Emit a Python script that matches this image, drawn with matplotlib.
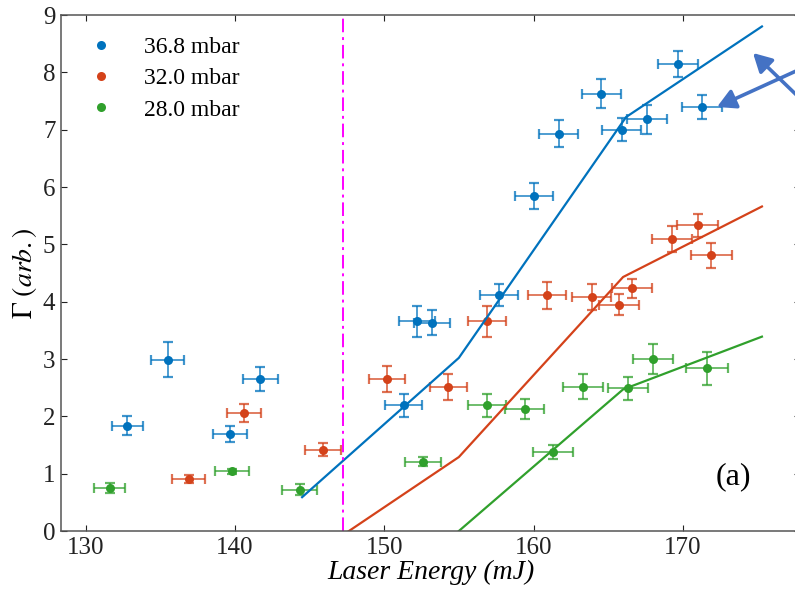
#!/usr/bin/env python

#---- import necessary packages ----#
import matplotlib
matplotlib.use('Agg')
import matplotlib.pyplot as plt
from matplotlib import rcParams
from matplotlib.lines import Line2D

#---- figure parameters ----#
params = {'font.family': 'serif',
          'font.serif': ['Liberation Serif', 'DejaVu Serif'],
          'mathtext.fontset': 'stix',
          'font.size': 17,
          'xtick.labelsize': 18,
          'ytick.labelsize': 18,
          'axes.linewidth': 1.1,
          'xtick.major.size': 4,
          'ytick.major.size': 4,
          'xtick.direction': 'in',
          'ytick.direction': 'in',
          'xtick.top': True,
          'ytick.right': True,
          }
rcParams.update(params)

#---- data ----#
blue_x = [132.8, 135.5, 139.7, 141.7, 151.3, 152.2, 153.2, 157.7, 160.05, 161.7,
          164.55, 165.9, 167.6, 169.7, 171.3]
blue_y = [1.84, 2.99, 1.70, 2.65, 2.19, 3.66, 3.63, 4.11, 5.84, 6.93,
          7.63, 7.00, 7.18, 8.14, 7.39]
blue_xerr = [1.06, 1.10, 1.14, 1.16, 1.23, 1.20, 1.20, 1.28, 1.28, 1.31,
             1.31, 1.31, 1.34, 1.34, 1.34]
blue_yerr = [0.17, 0.31, 0.14, 0.21, 0.20, 0.27, 0.22, 0.19, 0.23, 0.24,
             0.25, 0.20, 0.25, 0.23, 0.21]

red_x = [136.9, 140.6, 145.9, 150.2, 154.3, 156.9, 160.9, 163.9, 165.7, 166.6,
         169.3, 171.0, 171.9]
red_y = [0.91, 2.06, 1.42, 2.65, 2.51, 3.66, 4.11, 4.08, 3.95, 4.23,
         5.09, 5.33, 4.81]
red_xerr = [1.12, 1.15, 1.20, 1.20, 1.26, 1.27, 1.30, 1.30, 1.34, 1.34,
            1.34, 1.36, 1.37]
red_yerr = [0.07, 0.16, 0.12, 0.22, 0.22, 0.27, 0.23, 0.22, 0.19, 0.17,
            0.23, 0.20, 0.22]

green_x = [131.6, 139.8, 144.35, 152.6, 156.9, 159.4, 161.3, 163.3, 166.3, 168.0, 171.6]
green_y = [0.75, 1.04, 0.72, 1.21, 2.19, 2.13, 1.38, 2.52, 2.49, 3.00, 2.84]
green_xerr = [1.06, 1.13, 1.17, 1.23, 1.27, 1.30, 1.32, 1.34, 1.34, 1.36, 1.40]
green_yerr = [0.09, 0.05, 0.10, 0.08, 0.20, 0.18, 0.12, 0.22, 0.20, 0.26, 0.29]

# piecewise fits
blue_fit_x = [144.5, 155.0, 166.2, 175.3]
blue_fit_y = [0.59, 3.02, 7.22, 8.80]
red_fit_x = [144.5, 155.0, 166.0, 175.3]
red_fit_y = [-0.55, 1.29, 4.43, 5.66]
green_fit_x = [155.0, 166.0, 175.3]
green_fit_y = [0.0, 2.47, 3.39]

threshold = 147.25
labels = ['36.8 mbar', '32.0 mbar', '28.0 mbar']

#---- colours ----#
c_blue = '#0072BD'
c_red = '#D4421A'
c_green = '#30A02C'
c_arrow = '#4472C4'

#---- figure ----#
fig = plt.figure(figsize=(7.95, 5.91), dpi=100)
ax1 = fig.add_axes([61/795, 60/591, 739/795, 516/591])

series = [(blue_x, blue_y, blue_xerr, blue_yerr, c_blue),
          (red_x, red_y, red_xerr, red_yerr, c_red),
          (green_x, green_y, green_xerr, green_yerr, c_green)]

for xs, ys, xe, ye, c in series:
    ax1.errorbar(xs, ys, xerr=xe, yerr=ye, fmt='none', ecolor=c, elinewidth=1.3,
                 capsize=3.4, capthick=1.6, alpha=0.75)
    ax1.plot(xs, ys, 'o', color=c, ms=6.5, mec='none')

ax1.plot(blue_fit_x, blue_fit_y, color=c_blue, lw=1.6)
ax1.plot(red_fit_x, red_fit_y, color=c_red, lw=1.6)
ax1.plot(green_fit_x, green_fit_y, color=c_green, lw=1.6)

ax1.axvline(threshold, color='#FF00FF', lw=1.4, linestyle=(0, (7, 2.5, 1.5, 2.5)))

ax1.text(173.4, 0.95, '(a)', fontsize=23, ha='center', va='center')

#---- axis properties ----#
ax1.set_xlim(128.35, 177.85)
ax1.set_ylim(0, 9)
ax1.set_xticks([130, 140, 150, 160, 170])
ax1.set_yticks(range(0, 10))
ax1.tick_params(axis='both', which='both', pad=4, colors='#222222')
for s in ax1.spines.values():
    s.set_color('#555555')

ax1.set_xlabel('Laser Energy (mJ)', fontstyle='italic', fontsize=20, labelpad=1)
ax1.set_ylabel(r'$\Gamma\ \mathit{(arb.)}$', fontsize=20, labelpad=3)

#---- legend ----#
handles = [Line2D([], [], ls='none', marker='o', ms=6.5, mec='none', color=c)
           for c in (c_blue, c_red, c_green)]
leg = ax1.legend(handles, labels, loc='upper left', frameon=False, fontsize=17,
                 handlelength=1.0, handletextpad=1.3, labelspacing=0.42,
                 borderaxespad=0.5, bbox_to_anchor=(0.01, 1.0))

#---- arrows coming from off the right edge ----#
H = 591
ax1.annotate('', xy=(717, H - 107), xytext=(840, H - 51), xycoords='figure pixels',
             textcoords='figure pixels', annotation_clip=False,
             arrowprops=dict(arrowstyle='-|>,head_length=0.55,head_width=0.3',
                             mutation_scale=20, lw=2.6, color=c_arrow, shrinkA=0, shrinkB=0))
ax1.annotate('', xy=(753, H - 53), xytext=(840, H - 137), xycoords='figure pixels',
             textcoords='figure pixels', annotation_clip=False,
             arrowprops=dict(arrowstyle='-|>,head_length=0.55,head_width=0.3',
                             mutation_scale=20, lw=2.6, color=c_arrow, shrinkA=0, shrinkB=0))

plt.savefig('out.png', dpi=100)
